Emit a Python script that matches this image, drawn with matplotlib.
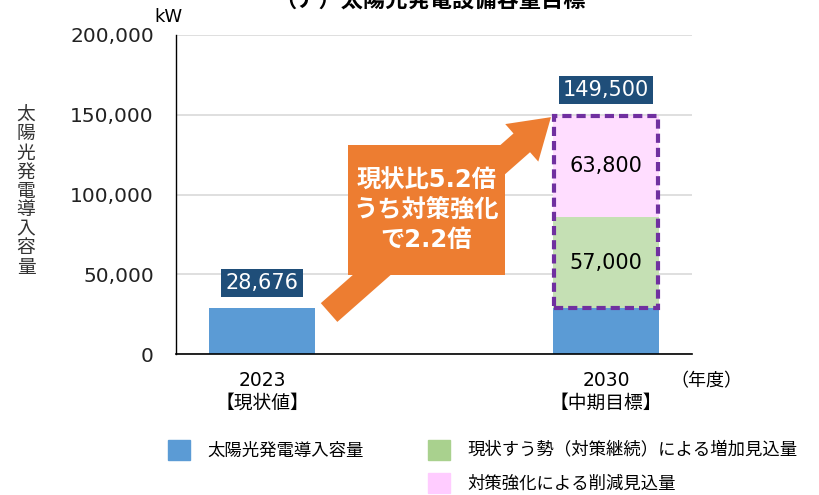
import matplotlib
matplotlib.use("Agg")
import matplotlib.pyplot as plt
from matplotlib.patches import Patch

plt.rcParams['font.family'] = ['DejaVu Sans', 'Noto Sans CJK JP']

# データ
years = ["2023\n【現状値】", "2030\n【中期目標】"]
base = [28676, 28676]          # 太陽光発電導入容量
growth = [0, 57000]            # 現状すう勢による増加見込量
policy = [0, 63800]            # 対策強化による削減見込量
totals = ["28,676", "149,500"]
yticks = [0, 50000, 100000, 150000, 200000]
legend_labels = ["太陽光発電導入容量", "現状すう勢（対策継続）による増加見込量", "対策強化による削減見込量"]

c_blue = "#5B9BD5"
c_green = "#C5E0B4"
c_pink = "#FFDDFF"
c_navy = "#1F4E79"
c_orange = "#ED7D31"
c_purple = "#7030A0"

fig = plt.figure(figsize=(8.19, 4.95), dpi=100)
ax = fig.add_axes([176/819, 1-354/495, 516/819, 319/495])

x = [0, 1]
w = 0.31
ax.bar(x, base, width=w, color=c_blue, zorder=2)
ax.bar(x[1], growth[1], width=w, bottom=base[1], color=c_green, zorder=2)
ax.bar(x[1], policy[1], width=w, bottom=base[1]+growth[1], color=c_pink, zorder=2)
# 破線の枠
ax.bar(x[1], growth[1]+policy[1], width=w*0.97, bottom=base[1], fill=False,
       edgecolor=c_purple, linestyle=(0, (2.2, 1.2)), linewidth=3, zorder=3)

ax.set_xlim(-0.25, 1.25)
ax.set_ylim(0, 200000)
ax.set_yticks(yticks)
ax.set_yticklabels([f"{v:,}" for v in yticks], fontsize=14.5, color="#222222")
ax.set_xticks(x)
ax.set_xticklabels(years, fontsize=13.5, linespacing=1.25)
ax.tick_params(length=0)
ax.tick_params(axis="y", pad=16)
ax.tick_params(axis="x", pad=12)
ax.grid(axis="y", color="#D9D9D9", linewidth=1.2, zorder=0)
ax.set_axisbelow(True)
for s in ["top", "right"]:
    ax.spines[s].set_visible(False)
ax.spines["left"].set_linewidth(1)
ax.spines["bottom"].set_linewidth(1.2)

# 合計ラベル
tops = [base[0] + growth[0] + policy[0], base[1] + growth[1] + policy[1]]
for xi, t, lab in zip(x, tops, totals):
    ax.text(xi, t + 16000, lab, ha="center", va="center", fontsize=15, color="white",
            bbox=dict(boxstyle="square,pad=0.2", fc=c_navy, ec="none"), zorder=5)
# 内訳ラベル
ax.text(x[1], base[1] + growth[1] / 2, f"{growth[1]:,}", ha="center", va="center", fontsize=15, zorder=5)
ax.text(x[1], base[1] + growth[1] + policy[1] / 2, f"{policy[1]:,}", ha="center", va="center", fontsize=15, zorder=5)

# 矢印
ax.annotate("", xy=(0.84, 148500), xytext=(0.195, 26000),
            arrowprops=dict(arrowstyle="simple,head_length=2.8,head_width=3.6,tail_width=1.8",
                            mutation_scale=10, fc=c_orange, ec="none", shrinkA=0, shrinkB=0),
            zorder=4)
ax.add_patch(plt.Rectangle((0.25, 49500), 0.456, 81500, color=c_orange, zorder=4, lw=0))
ax.text(0.478, 90250, "現状比5.2倍\nうち対策強化\nで2.2倍", ha="center", va="center",
        fontsize=17.5, fontweight="bold", color="white", linespacing=1.3, zorder=5)

# 軸ラベル
fig.text(168/819, 1-17/495, "kW", ha="center", va="center", fontsize=13)
fig.text(26/819, 1-191/495, "\n".join("太陽光発電導入容量"), ha="center", va="center",
         fontsize=13.5, linespacing=1.0, color="#333333")
fig.text(706/819, 1-381/495, "（年度）", ha="center", va="center", fontsize=13)

# タイトル (上端で切れている)
fig.text(430/819, 1-0/495, "（ア）太陽光発電設備容量目標", ha="center", va="center",
         fontsize=16, fontweight="bold")

# 凡例
h1 = [Patch(color=c_blue)]
h2 = [Patch(color="#A9D18E"), Patch(color="#FFCCFF")]
fig.legend(h1, legend_labels[:1], loc="upper left", bbox_to_anchor=(152/819, 1-424/495),
           frameon=False, fontsize=12.5, handlelength=1.3, handleheight=1.4, handletextpad=1.0)
fig.legend(h2, legend_labels[1:], loc="upper left", bbox_to_anchor=(412/819, 1-424/495),
           frameon=False, fontsize=12.5, handlelength=1.3, handleheight=1.4, handletextpad=1.0,
           labelspacing=0.75)

fig.savefig("out.png", dpi=100)
